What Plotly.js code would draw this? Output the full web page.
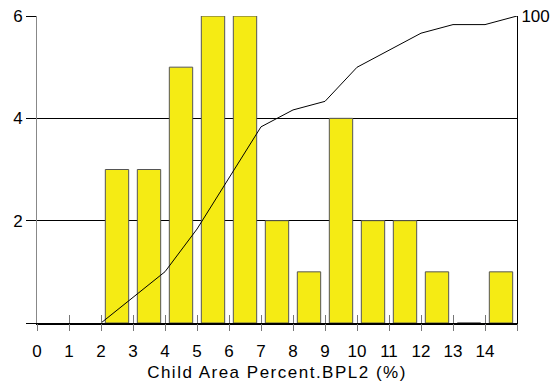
<!DOCTYPE html>
<html>
<head>
<meta charset="utf-8">
<script src="https://cdn.plot.ly/plotly-3.0.1.min.js"></script>
<style>html,body{margin:0;padding:0;background:#fff;}#chart{width:559px;height:385px;}
.g-xtitle text{letter-spacing:1.5px;}</style>
</head>
<body>
<div id="chart"></div>
<script>
// Histogram bins (lower edges) and counts
const binStarts = [2, 3, 4, 5, 6, 7, 8, 9, 10, 11, 12, 13, 14];
const counts = [3, 3, 5, 6, 6, 2, 1, 4, 2, 2, 1, 0, 1];
// Cumulative percent at bin edges
const cumEdges = [2, 3, 4, 5, 6, 7, 8, 9, 10, 11, 12, 13, 14, 15];
const cumPct = [0, 8.3, 16.7, 30.6, 47.2, 63.9, 69.4, 72.2, 83.3, 88.9, 94.4, 97.2, 97.2, 100];
const xTicks = [0, 1, 2, 3, 4, 5, 6, 7, 8, 9, 10, 11, 12, 13, 14];
const xAllTicks = [0, 1, 2, 3, 4, 5, 6, 7, 8, 9, 10, 11, 12, 13, 14, 15];
const yTicks = [0, 2, 4, 6];
const yTickText = ['', '2', '4', '6'];

const barCenters = binStarts.map(v => v + 0.5);
const font = {family: 'Liberation Sans, Arial, sans-serif', size: 17, color: '#000'};

const data = [
  {type: 'bar', x: barCenters, y: counts, width: 0.73,
   marker: {color: '#F5EB14', line: {color: '#555555', width: 1}},
   xaxis: 'x', yaxis: 'y', hoverinfo: 'skip'},
  {type: 'scatter', mode: 'lines', x: cumEdges, y: cumPct,
   line: {color: '#000', width: 1}, xaxis: 'x', yaxis: 'y2', hoverinfo: 'skip'},
  {type: 'scatter', mode: 'none', x: [0], y: [0], xaxis: 'x2', yaxis: 'y', hoverinfo: 'skip'}
];

const layout = {
  width: 559, height: 385,
  margin: {l: 37, r: 42, t: 16, b: 62},
  paper_bgcolor: '#fff', plot_bgcolor: '#fff',
  showlegend: false,
  font: font,
  xaxis: {
    range: [0, 15], tickvals: xTicks, ticktext: xTicks.map(String),
    ticks: 'inside', ticklen: 8, tickcolor: '#777', tickwidth: 1,
    showgrid: false, zeroline: false,
    showline: true, linecolor: '#000', linewidth: 2,
    tickfont: font, ticklabelstandoff: 12,
    title: {text: 'Child Area Percent.BPL2 (%)', font: font, standoff: 6}
  },
  xaxis2: {
    range: [0, 15], overlaying: 'x', anchor: 'y', side: 'bottom',
    tickvals: xAllTicks, showticklabels: false,
    ticks: 'outside', ticklen: 7, tickcolor: '#777', tickwidth: 1,
    showgrid: false, zeroline: false, showline: false
  },
  yaxis: {
    range: [0, 6], tickvals: yTicks, ticktext: yTickText,
    ticks: 'outside', ticklen: 10, tickcolor: '#000', tickwidth: 1,
    showgrid: true, gridcolor: '#000', gridwidth: 1,
    zeroline: false, showline: true, linecolor: '#888', linewidth: 1,
    tickfont: font, ticklabelstandoff: 0
  },
  yaxis2: {
    range: [0, 100], overlaying: 'y', side: 'right', anchor: 'x',
    tickvals: [100], ticktext: ['100'], ticks: '',
    showgrid: false, zeroline: false,
    showline: true, linecolor: '#000', linewidth: 1,
    tickfont: font
  }
};

Plotly.newPlot('chart', data, layout, {staticPlot: true, displayModeBar: false});
</script>
</body>
</html>
